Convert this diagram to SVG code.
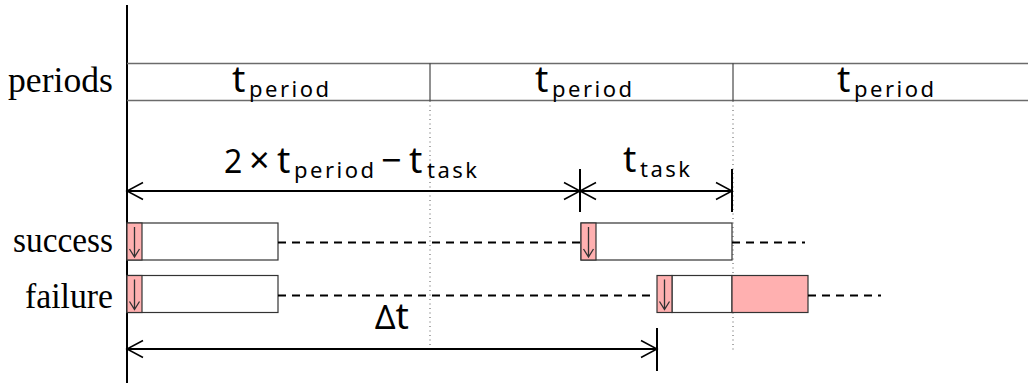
<svg xmlns="http://www.w3.org/2000/svg" width="1028" height="383" viewBox="0 0 1028 383">
  <defs>
    <style>
      .lbl{font-family:"Liberation Serif",serif;font-size:36px;fill:#000}
      .m{font-family:"Noto Sans","DejaVu Sans",sans-serif;font-size:32px;fill:#000}
      .t{font-size:37px}
      .op{font-size:36px}
      .s{font-size:22px;letter-spacing:2.5px}
      .band{stroke:#6b6b6b;stroke-width:1.5;fill:none}
      .sep{stroke:#222;stroke-width:1}
      .grid{stroke:#555;stroke-width:1;stroke-dasharray:1 3.5}
      .box{fill:#fff;stroke:#333;stroke-width:1.2}
      .hot{fill:#ffb0b0;stroke:#333;stroke-width:1.2}
      .tick{stroke:#000;stroke-width:2}
      .dim{stroke:#000;stroke-width:2;fill:none;marker-start:url(#ah);marker-end:url(#ah)}
      .wait{stroke:#000;stroke-width:2;stroke-dasharray:8 6}
      .dn{stroke:#333;stroke-width:1.3;fill:none}
    </style>
    <marker id="ah" markerUnits="userSpaceOnUse" viewBox="-18 -10 20 20" markerWidth="20" markerHeight="20" refX="0" refY="0" orient="auto-start-reverse">
      <path d="M-16,-8.5 L0,0 L-16,8.5" fill="none" stroke="#000" stroke-width="1.5"/>
    </marker>
  </defs>

  <!-- time axis origin -->
  <g id="axis">
    <line x1="127" y1="5" x2="127" y2="383" stroke="#000" stroke-width="2"/>
  </g>

  <!-- period boundaries carried down through the rows -->
  <g id="grid">
    <line class="grid" x1="430" y1="101" x2="430" y2="350"/>
    <line class="grid" x1="733" y1="101" x2="733" y2="350"/>
  </g>

  <!-- period band -->
  <g id="periods">
    <text class="lbl" x="113" y="91.5" text-anchor="end" textLength="105" lengthAdjust="spacingAndGlyphs">periods</text>
    <line class="band" x1="127" y1="63.5" x2="1028" y2="63.5"/>
    <line class="band" x1="127" y1="100.5" x2="1028" y2="100.5"/>
    <line class="sep" x1="430" y1="63.5" x2="430" y2="100.5"/>
    <line class="sep" x1="733" y1="63.5" x2="733" y2="100.5"/>
    <text class="m t" x="232" y="92">t<tspan class="s" x="249" y="97">period</tspan></text>
    <text class="m t" x="535" y="92">t<tspan class="s" x="552" y="97">period</tspan></text>
    <text class="m t" x="837" y="92">t<tspan class="s" x="854" y="97">period</tspan></text>
  </g>

  <!-- success run -->
  <g id="success">
    <text class="lbl" x="113" y="251.5" text-anchor="end" textLength="100" lengthAdjust="spacingAndGlyphs">success</text>
    <rect class="box" x="127" y="223" width="151" height="37"/>
    <rect class="hot" x="127" y="223" width="15" height="37"/>
    <path class="dn" d="M134.5,227 V257 M129.5,249 L134.5,257 L139.5,249"/>
    <rect class="box" x="581" y="223" width="151" height="37"/>
    <rect class="hot" x="581" y="223" width="15" height="37"/>
    <path class="dn" d="M588.5,227 V257 M583.5,249 L588.5,257 L593.5,249"/>
  </g>

  <!-- failure run -->
  <g id="failure">
    <text class="lbl" x="113" y="308" text-anchor="end" textLength="88" lengthAdjust="spacingAndGlyphs">failure</text>
    <rect class="box" x="127" y="275.5" width="151" height="37"/>
    <rect class="hot" x="127" y="275.5" width="15" height="37"/>
    <path class="dn" d="M134.5,279.5 V309.5 M129.5,301.5 L134.5,309.5 L139.5,301.5"/>
    <rect class="box" x="672" y="275.5" width="60" height="37"/>
    <rect class="hot" x="657" y="275.5" width="15" height="37"/>
    <path class="dn" d="M664.5,279.5 V309.5 M659.5,301.5 L664.5,309.5 L669.5,301.5"/>
    <rect class="hot" x="732" y="275.5" width="76" height="37"/>
  </g>

  <!-- waits and dimension arrows -->
  <g id="connectors">
    <line class="wait" x1="278" y1="242.5" x2="580" y2="242.5"/>
    <line class="wait" x1="732" y1="242.5" x2="805" y2="242.5"/>
    <line class="wait" x1="278" y1="295.5" x2="656" y2="295.5"/>
    <line class="wait" x1="808" y1="295.5" x2="881" y2="295.5"/>

    <line class="tick" x1="580" y1="169" x2="580" y2="212"/>
    <line class="tick" x1="732" y1="169" x2="732" y2="212"/>
    <line class="tick" x1="657" y1="328" x2="657" y2="371"/>
    <path class="dim" d="M127,191 H580"/>
    <path class="dim" d="M580,191 H732"/>
    <path class="dim" d="M127,349 H657"/>

    <text class="m" x="224" y="173">2<tspan class="op" x="249">×</tspan><tspan class="t" x="277">t</tspan><tspan class="s" x="294" y="178">period</tspan><tspan class="op" x="381" y="173">−</tspan><tspan class="t" x="409">t</tspan><tspan class="s" x="427" y="178">task</tspan></text>
    <text class="m t" x="623" y="172">t<tspan class="s" x="640" y="176.5">task</tspan></text>
    <text class="m" x="375" y="329">Δ<tspan class="t">t</tspan></text>
  </g>
</svg>
